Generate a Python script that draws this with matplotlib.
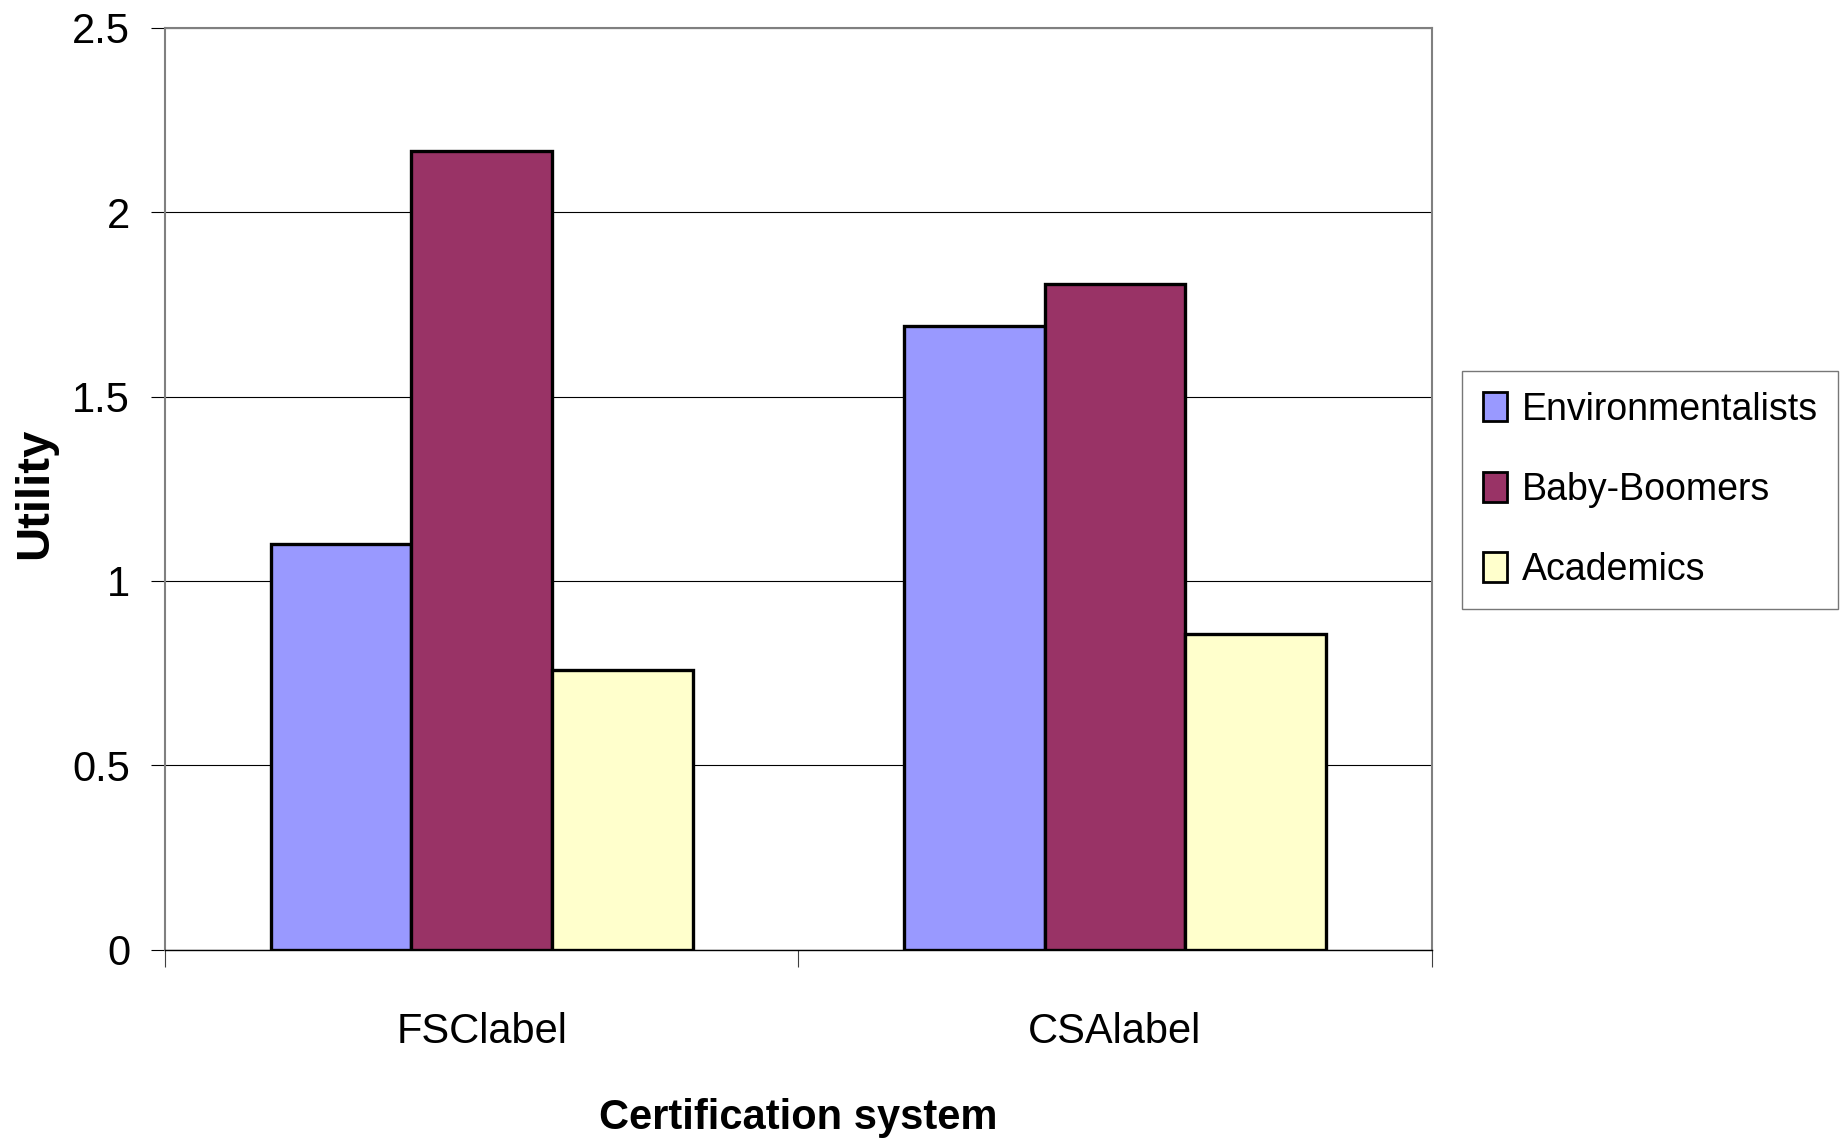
import matplotlib
matplotlib.use("Agg")
import matplotlib.pyplot as plt
import numpy as np

categories = ["FSClabel", "CSAlabel"]
series_names = ["Environmentalists", "Baby-Boomers", "Academics"]
environmentalists = [1.10, 1.69]
baby_boomers = [2.165, 1.805]
academics = [0.76, 0.855]
colors = ["#9999FF", "#993366", "#FFFFCC"]
yticks = [0, 0.5, 1, 1.5, 2, 2.5]
ytick_labels = ["0", "0.5", "1", "1.5", "2", "2.5"]

fam = ["Liberation Sans Narrow", "Liberation Sans", "DejaVu Sans"]
plt.rcParams["font.family"] = fam

fig = plt.figure(figsize=(18.43, 11.43), dpi=100)
ax = fig.add_axes([0.0895, 0.1689, 0.6873, 0.8070])

x = np.arange(len(categories))
w = 2.0 / 9.0
series = [environmentalists, baby_boomers, academics]
for i, (vals, name, c) in enumerate(zip(series, series_names, colors)):
    ax.bar(x + (i - 1) * w, vals, width=w, color=c, edgecolor="black",
           linewidth=2.4, label=name, zorder=3)

ax.set_xlim(-0.5, 1.5)
ax.set_ylim(0, 2.5)
ax.set_yticks(yticks)
ax.set_yticklabels(ytick_labels)
ax.yaxis.grid(True, color="black", linewidth=0.8, zorder=1)
ax.set_axisbelow(True)

ax.set_xticks(x)
ax.set_xticklabels(categories)
ax.set_xticks([-0.5, 0.5, 1.5], minor=True)
ax.tick_params(axis="x", which="major", length=0, pad=45, labelsize=30)
ax.tick_params(axis="x", which="minor", length=12, width=0.8, color="#404040")
ax.tick_params(axis="y", which="major", length=10, width=0.8, pad=15,
               labelsize=30, color="black")

for s in ["left", "top", "right"]:
    ax.spines[s].set_color("#808080")
    ax.spines[s].set_linewidth(1.5)
ax.spines["bottom"].set_color("black")
ax.spines["bottom"].set_linewidth(1.0)

ax.set_ylabel("Utility", fontsize=34, fontweight="bold")
ax.yaxis.set_label_coords(-0.0853, 0.495)
ax.set_xlabel("Certification system", fontsize=30, fontweight="bold")
ax.xaxis.set_label_coords(0.5, -0.161)

leg = fig.legend(loc="upper left", bbox_to_anchor=(0.7933, 0.6754),
                 bbox_transform=fig.transFigure, fontsize=27, frameon=True,
                 fancybox=False, edgecolor="#555555", borderpad=0.55,
                 labelspacing=1.18, handlelength=0.64, handleheight=0.83,
                 handletextpad=0.4, borderaxespad=0)
leg.get_frame().set_linewidth(1.0)
for p in leg.get_patches():
    p.set_linewidth(2.0)

fig.savefig("out.png", dpi=100)
